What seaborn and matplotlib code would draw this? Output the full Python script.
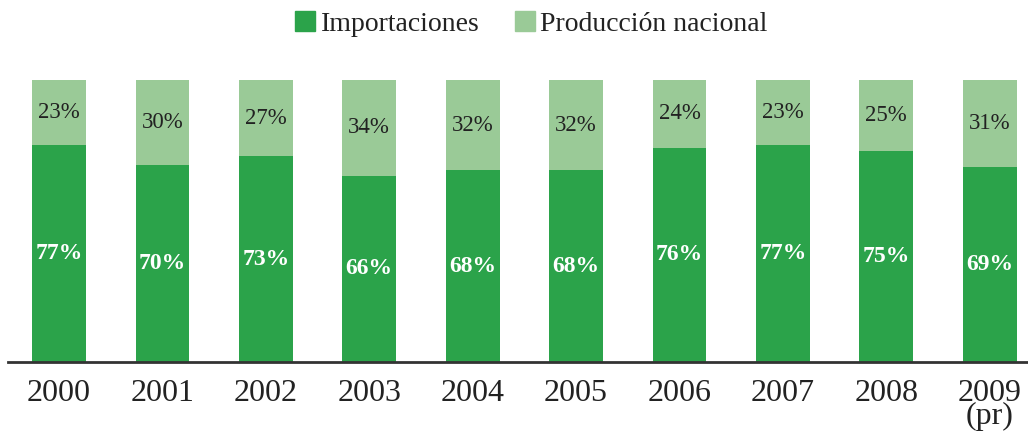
import matplotlib
matplotlib.use("Agg")
import pandas as pd
import seaborn as sb
from matplotlib import pyplot as plt
from matplotlib.patches import Patch

sb.set_style("white")
plt.rcParams['font.family'] = ['Liberation Serif', 'DejaVu Serif']

years = ['2000', '2001', '2002', '2003', '2004', '2005', '2006', '2007', '2008', '2009\n(pr)']
importaciones = [77, 70, 73, 66, 68, 68, 76, 77, 75, 69]
produccion = [23, 30, 27, 34, 32, 32, 24, 23, 25, 31]

dark = '#2ba34a'
light = '#9aca97'

df = pd.DataFrame({'year': years, 'imp': importaciones, 'prod': produccion})
df['total'] = df['imp'] + df['prod']

fig = plt.figure(figsize=(10.28, 4.34), dpi=100)
ax = fig.add_axes([8 / 1028, 1 - 362 / 434, 1 - 8 / 1028, (362 - 80) / 434])

sb.barplot(data=df, x='year', y='total', color=light, width=0.52,
           saturation=1, linewidth=0, ax=ax)
sb.barplot(data=df, x='year', y='imp', color=dark, width=0.52,
           saturation=1, linewidth=0, ax=ax)

# percent labels
for i, row in df.iterrows():
    ax.text(i, row['imp'] / 2, f"{row['imp']}%", ha='center', va='center',
            color='white', fontsize=17, fontweight='bold')
    ax.text(i, row['imp'] + row['prod'] / 2, f"{row['prod']}%", ha='center',
            va='center', color='#222222', fontsize=16.5)

ax.set_xlim(-0.493, 9.37)
ax.set_ylim(0, 100)
ax.set_xlabel('')
ax.set_ylabel('')
ax.set_yticks([])
ax.tick_params(axis='x', length=0, pad=12, labelsize=23, labelcolor='#222222')
for lbl in ax.get_xticklabels():
    lbl.set_linespacing(0.75)
for s in ['top', 'right', 'left']:
    ax.spines[s].set_visible(False)
ax.spines['bottom'].set_color('#333333')
ax.spines['bottom'].set_linewidth(2)

handles = [Patch(color=dark, label='Importaciones'),
           Patch(color=light, label='Producción nacional')]
fig.legend(handles=handles, loc='center', bbox_to_anchor=(0.517, 1 - 24 / 434),
           ncol=2, frameon=False, fontsize=20, handlelength=0.72,
           handleheight=0.72, handletextpad=0.2, columnspacing=1.25,
           labelcolor='#222222')

fig.savefig('out.png', dpi=100)
